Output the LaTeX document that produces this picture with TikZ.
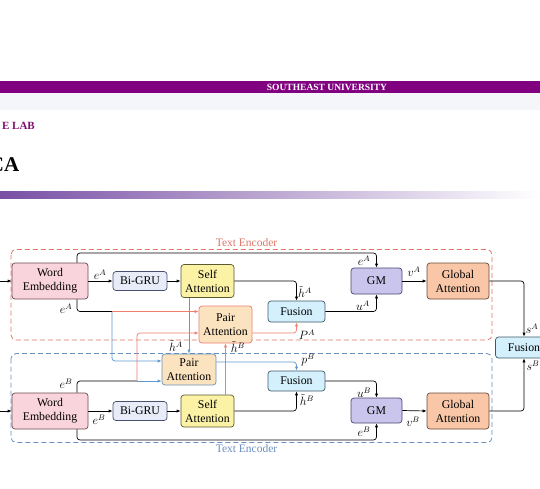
\documentclass[tikz,border=0pt]{standalone}
\usepackage{fontspec}
\setmainfont{Liberation Serif}
\usetikzlibrary{arrows.meta,calc}
\definecolor{hdrpurple}{HTML}{800080}
\definecolor{hdrgray}{HTML}{F5F6FA}
\definecolor{labpurple}{HTML}{7E1070}
\definecolor{gradpurple}{HTML}{7950A5}
\definecolor{wefill}{HTML}{FAD4DC}
\definecolor{weborder}{HTML}{6B4A52}
\definecolor{grufill}{HTML}{E8ECF8}
\definecolor{gruborder}{HTML}{4A5070}
\definecolor{safill}{HTML}{FBF2A6}
\definecolor{saborder}{HTML}{5A5A30}
\definecolor{pafill}{HTML}{FCE3C0}
\definecolor{fufill}{HTML}{D3F0FC}
\definecolor{fuborder}{HTML}{3F5A66}
\definecolor{gmfill}{HTML}{C9C5EC}
\definecolor{gmborder}{HTML}{4A4670}
\definecolor{gafill}{HTML}{F9C7A7}
\definecolor{gaborder}{HTML}{6A4A3A}
\definecolor{redline}{HTML}{F07F6F}
\definecolor{blueline}{HTML}{5E9AD0}
\definecolor{reddash}{HTML}{E07868}
\definecolor{bluedash}{HTML}{6A90C0}
\begin{document}
\begin{tikzpicture}[x=1pt,y=-1pt,
  box/.style={draw, rounded corners=3pt, line width=0.7pt, align=center, inner sep=0pt,
    font=\fontsize{11.8}{14}\selectfont},
  conn/.style={line width=0.7pt, rounded corners=3pt, -{Latex[length=4pt,width=3.2pt]}},
  plain/.style={line width=0.7pt, rounded corners=3pt},
  lbl/.style={font=\fontsize{11.5}{13}\selectfont, inner sep=0pt},
  encbox/.style={dashed, line width=0.8pt, rounded corners=5pt, dash pattern=on 5pt off 3pt}]
\clip (0,0) rectangle (540,488);
\fill[white] (0,0) rectangle (540,488);
% header
\fill[hdrpurple] (0,80.5) rectangle (540,92.5);
\node[text=white, font=\bfseries\fontsize{9.5}{11}\selectfont, inner sep=0] (hdr) at (327,87) {SOUTHEAST UNIVERSITY};
\fill[hdrgray] (0,92.5) rectangle (540,110);
\node[anchor=east, text=labpurple, font=\bfseries\fontsize{11}{13}\selectfont, inner sep=0] (lab) at (35,125.5) {E LAB};
\node[anchor=east, text=black, font=\bfseries\fontsize{21}{25}\selectfont, inner sep=0] (ttl) at (19.5,164.5) {CA};
\shade[left color=gradpurple, right color=white] (0,191) rectangle (540,198);

% encoder boxes
\draw[encbox, draw=reddash] (11,249.5) rectangle (492,340);
\draw[encbox, draw=bluedash] (11,353.5) rectangle (492,442.5);
\node[lbl, text=reddash, fill=white, inner sep=1pt] (encA) at (246.5,243) {Text Encoder};
\node[lbl, text=bluedash, fill=white, inner sep=1pt] (encB) at (246.5,449) {Text Encoder};

% nodes top
\node[box, fill=wefill, draw=weborder, minimum width=76pt, minimum height=36pt] (weA) at (50,281) {Word\\Embedding};
\node[box, fill=grufill, draw=gruborder, minimum width=54pt, minimum height=19pt] (gruA) at (140,281) {Bi-GRU};
\node[box, fill=safill, draw=saborder, minimum width=53pt, minimum height=33pt] (saA) at (207.5,281) {Self\\Attention};
\node[box, fill=pafill, draw=redline, minimum width=53pt, minimum height=37pt] (paA) at (225.5,324.5) {Pair\\Attention};
\node[box, fill=fufill, draw=fuborder, minimum width=57pt, minimum height=21pt] (fuA) at (296.5,311.5) {Fusion};
\node[box, fill=gmfill, draw=gmborder, minimum width=51pt, minimum height=26pt] (gmA) at (376.5,281) {GM};
\node[box, fill=gafill, draw=gaborder, minimum width=62pt, minimum height=36pt] (gaA) at (458,281) {Global\\Attention};
\node[box, fill=fufill, draw=fuborder, minimum width=57pt, minimum height=21pt] (fuR) at (524,347.5) {Fusion};

% nodes bottom
\node[box, fill=wefill, draw=weborder, minimum width=76pt, minimum height=36pt] (weB) at (50,411) {Word\\Embedding};
\node[box, fill=grufill, draw=gruborder, minimum width=54pt, minimum height=19pt] (gruB) at (140,411) {Bi-GRU};
\node[box, fill=safill, draw=saborder, minimum width=53pt, minimum height=32pt] (saB) at (207.5,411) {Self\\Attention};
\node[box, fill=pafill, draw=blueline!70!gray, minimum width=54pt, minimum height=31pt] (paB) at (189,369.5) {Pair\\Attention};
\node[box, fill=fufill, draw=fuborder, minimum width=57pt, minimum height=20pt] (fuB) at (296.5,381) {Fusion};
\node[box, fill=gmfill, draw=gmborder, minimum width=51pt, minimum height=25pt] (gmB) at (376.5,410.5) {GM};
\node[box, fill=gafill, draw=gaborder, minimum width=62pt, minimum height=36pt] (gaB) at (458,411) {Global\\Attention};

% coordinates
\coordinate (inA) at (0,281);
\coordinate (inB) at (0,411);
\coordinate (jA) at (112,311.5);
\coordinate (jB) at (137,381);

% top connectors
\draw[conn] (inA) -- (weA.west);
\draw[conn] (weA.east) -- (gruA.west);
\draw[conn] (gruA.east) -- (saA.west);
\draw[conn] (saA.east) -| (fuA.north);
\draw[conn] ([xshift=27pt]weA.north) |- (gmA.north |- 0,253) -- (gmA.north);
\draw[plain] ([xshift=27pt]weA.south) |- (jA);
\draw[conn, draw=redline] (jA) -- (jA -| paA.west);
\draw[conn, draw=blueline] (jA) |- ([yshift=8.5pt]paB.west);
\draw[conn, draw=blueline] (saA.south -| paB.north) -- (paB.north);
\draw[conn, draw=redline] (saB.north -| paA.south) -- (paA.south);
\draw[conn, draw=redline] ([yshift=-8.5pt]paA.east) -| (fuA.south);
\draw[conn] (fuA.east) -| (gmA.south);
\draw[conn] (gmA.east) -- (gaA.west);
\draw[conn] (gaA.east) -| (fuR.north);

% bottom connectors
\draw[conn] (inB) -- (weB.west);
\draw[conn] (weB.east) -- (gruB.west);
\draw[conn] (gruB.east) -- (saB.west);
\draw[plain] ([xshift=27pt]weB.north) |- (jB);
\draw[conn, draw=redline] (jB) |- ([yshift=-8.5pt]paA.west);
\draw[conn, draw=blueline] (jB) -- (jB -| paB.west);
\draw[conn, draw=blueline] ([yshift=7.5pt]paB.east) -| (fuB.north);
\draw[conn] (saB.east) -| (fuB.south);
\draw[conn] (fuB.east) -| (gmB.north);
\draw[conn] ([xshift=27pt]weB.south) |- (gmB.south |- 0,440) -- (gmB.south);
\draw[conn] (gmB.east) -- (gaB.west);
\draw[conn] (gaB.east) -| (fuR.south);

% labels
\node[lbl] (l1) at (100,275) {$e^A$};
\node[lbl] (l2) at (66,309) {$e^A$};
\node[lbl] (l3) at (364,261) {$e^A$};
\node[lbl] (l4) at (363,306) {$u^A$};
\node[lbl] (l5) at (414,272) {$v^A$};
\node[lbl] (l6) at (532,329) {$s^A$};
\node[lbl] (l7) at (305,292) {$\tilde{h}^A$};
\node[lbl] (l8) at (307,335) {$P^A$};
\node[lbl] (l9) at (176,346) {$\tilde{h}^A$};
\node[lbl] (l10) at (238,347) {$\tilde{h}^B$};
\node[lbl] (l11) at (308,360) {$p^B$};
\node[lbl] (l12) at (307,400) {$\tilde{h}^B$};
\node[lbl] (l13) at (66,384) {$e^B$};
\node[lbl] (l14) at (99,420) {$e^B$};
\node[lbl] (l15) at (364,393) {$u^B$};
\node[lbl] (l16) at (364,432) {$e^B$};
\node[lbl] (l17) at (413,422) {$v^B$};
\node[lbl] (l18) at (533,366) {$s^B$};
\end{tikzpicture}
\end{document}
